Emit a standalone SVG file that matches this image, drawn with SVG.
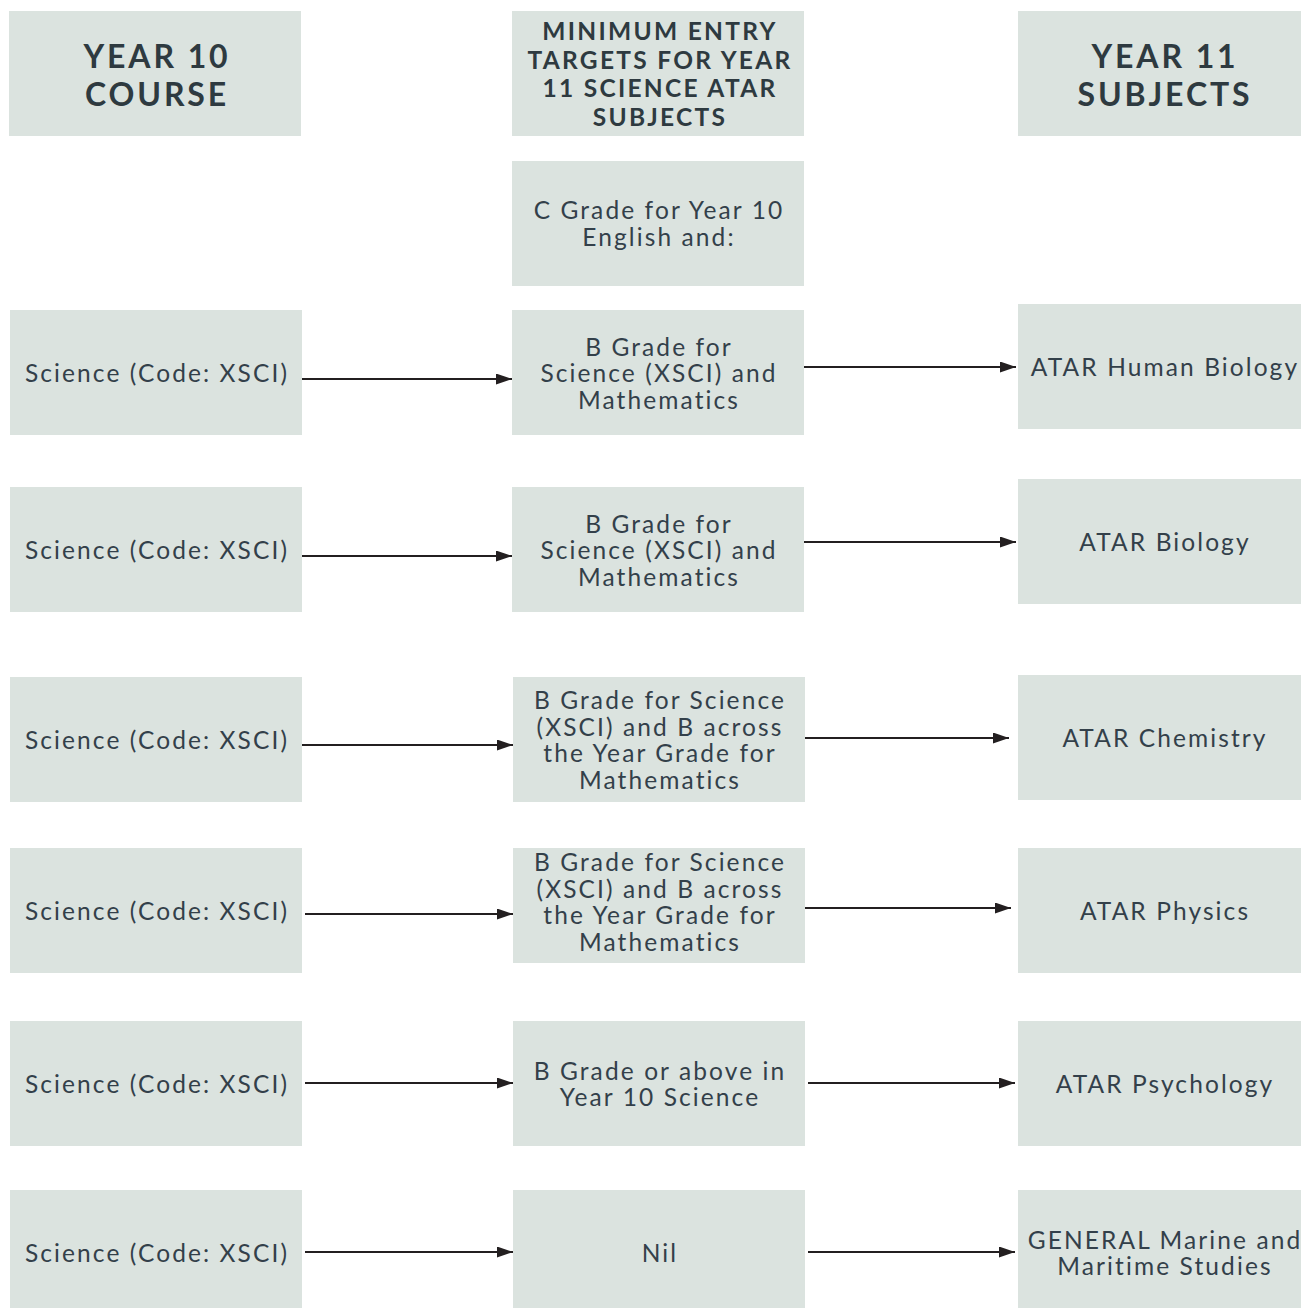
<svg xmlns="http://www.w3.org/2000/svg" width="1301" height="1308" viewBox="0 0 1301 1308">
  <style>
    .box { fill: #dbe3df; }
    .hd { font-family: Lato, "Liberation Sans", sans-serif; font-weight: bold; fill: #2e3a40; text-anchor: middle; }
    .hd1 { font-size: 32px; letter-spacing: 2.9px; }
    .hd2 { font-size: 24.5px; letter-spacing: 2.3px; }
    .tx { font-family: Lato, "Liberation Sans", sans-serif; font-size: 24.5px; letter-spacing: 2.1px; fill: #33404a; text-anchor: middle; }
    .edge { stroke: #231f20; stroke-width: 2.2; fill: none; marker-end: url(#arrow); }
  </style>
  <defs>
    <marker id="arrow" viewBox="0 0 16 11" refX="16" refY="5.5" markerWidth="16" markerHeight="11" markerUnits="userSpaceOnUse" orient="auto">
      <path d="M0,0 L16,5.5 L0,11 z" fill="#231f20"/>
    </marker>
  </defs>
  <rect width="1301" height="1308" fill="#ffffff"/>

  <!-- column headers -->
  <g id="head-year10">
    <rect class="box" x="9" y="11" width="292" height="125"/>
    <text class="hd hd1" x="157" y="68">YEAR 10</text>
    <text class="hd hd1" x="157" y="106">COURSE</text>
  </g>
  <g id="head-targets">
    <rect class="box" x="512" y="11" width="292" height="125"/>
    <text class="hd hd2" x="660" y="40">MINIMUM ENTRY</text>
    <text class="hd hd2" x="660" y="69">TARGETS FOR YEAR</text>
    <text class="hd hd2" x="660" y="97">11 SCIENCE ATAR</text>
    <text class="hd hd2" x="660" y="126">SUBJECTS</text>
  </g>
  <g id="head-year11">
    <rect class="box" x="1018" y="11" width="283" height="125"/>
    <text class="hd hd1" x="1165" y="68">YEAR 11</text>
    <text class="hd hd1" x="1165" y="106">SUBJECTS</text>
  </g>

  <g id="english">
    <rect class="box" x="512" y="161" width="292" height="125"/>
    <text class="tx" x="659" y="219">C Grade for Year 10</text>
    <text class="tx" x="659" y="246">English and:</text>
  </g>

  <!-- row 1 -->
  <g id="course1">
    <rect class="box" x="10" y="310" width="292" height="125"/>
    <text class="tx" x="157" y="382">Science (Code: XSCI)</text>
  </g>
  <g id="target1">
    <rect class="box" x="512" y="310" width="292" height="125"/>
    <text class="tx" x="659" y="356">B Grade for</text>
    <text class="tx" x="659" y="382">Science (XSCI) and</text>
    <text class="tx" x="659" y="409">Mathematics</text>
  </g>
  <g id="subject1">
    <rect class="box" x="1018" y="304" width="283" height="125"/>
    <text class="tx" x="1165" y="376">ATAR Human Biology</text>
  </g>

  <!-- row 2 -->
  <g id="course2">
    <rect class="box" x="10" y="487" width="292" height="125"/>
    <text class="tx" x="157" y="559">Science (Code: XSCI)</text>
  </g>
  <g id="target2">
    <rect class="box" x="512" y="487" width="292" height="125"/>
    <text class="tx" x="659" y="533">B Grade for</text>
    <text class="tx" x="659" y="559">Science (XSCI) and</text>
    <text class="tx" x="659" y="586">Mathematics</text>
  </g>
  <g id="subject2">
    <rect class="box" x="1018" y="479" width="283" height="125"/>
    <text class="tx" x="1165" y="551">ATAR Biology</text>
  </g>

  <!-- row 3 -->
  <g id="course3">
    <rect class="box" x="10" y="677" width="292" height="125"/>
    <text class="tx" x="157" y="749">Science (Code: XSCI)</text>
  </g>
  <g id="target3">
    <rect class="box" x="513" y="677" width="292" height="125"/>
    <text class="tx" x="660" y="709">B Grade for Science</text>
    <text class="tx" x="660" y="736">(XSCI) and B across</text>
    <text class="tx" x="660" y="762">the Year Grade for</text>
    <text class="tx" x="660" y="789">Mathematics</text>
  </g>
  <g id="subject3">
    <rect class="box" x="1018" y="675" width="283" height="125"/>
    <text class="tx" x="1165" y="747">ATAR Chemistry</text>
  </g>

  <!-- row 4 -->
  <g id="course4">
    <rect class="box" x="10" y="848" width="292" height="125"/>
    <text class="tx" x="157" y="920">Science (Code: XSCI)</text>
  </g>
  <g id="target4">
    <rect class="box" x="513" y="848" width="292" height="115"/>
    <text class="tx" x="660" y="871">B Grade for Science</text>
    <text class="tx" x="660" y="898">(XSCI) and B across</text>
    <text class="tx" x="660" y="924">the Year Grade for</text>
    <text class="tx" x="660" y="951">Mathematics</text>
  </g>
  <g id="subject4">
    <rect class="box" x="1018" y="848" width="283" height="125"/>
    <text class="tx" x="1165" y="920">ATAR Physics</text>
  </g>

  <!-- row 5 -->
  <g id="course5">
    <rect class="box" x="10" y="1021" width="292" height="125"/>
    <text class="tx" x="157" y="1093">Science (Code: XSCI)</text>
  </g>
  <g id="target5">
    <rect class="box" x="513" y="1021" width="292" height="125"/>
    <text class="tx" x="660" y="1080">B Grade or above in</text>
    <text class="tx" x="660" y="1106">Year 10 Science</text>
  </g>
  <g id="subject5">
    <rect class="box" x="1018" y="1021" width="283" height="125"/>
    <text class="tx" x="1165" y="1093">ATAR Psychology</text>
  </g>

  <!-- row 6 -->
  <g id="course6">
    <rect class="box" x="10" y="1190" width="292" height="118"/>
    <text class="tx" x="157" y="1262">Science (Code: XSCI)</text>
  </g>
  <g id="target6">
    <rect class="box" x="513" y="1190" width="292" height="118"/>
    <text class="tx" x="660" y="1262">Nil</text>
  </g>
  <g id="subject6">
    <rect class="box" x="1018" y="1190" width="283" height="118"/>
    <text class="tx" x="1165" y="1249">GENERAL Marine and</text>
    <text class="tx" x="1165" y="1275">Maritime Studies</text>
  </g>

  <!-- connectors -->
  <g id="connectors">
    <line class="edge" x1="302" y1="379" x2="512" y2="379"/>
    <line class="edge" x1="804" y1="367" x2="1016" y2="367"/>
    <line class="edge" x1="302" y1="556" x2="512" y2="556"/>
    <line class="edge" x1="804" y1="542" x2="1016" y2="542"/>
    <line class="edge" x1="302" y1="745" x2="513" y2="745"/>
    <line class="edge" x1="805" y1="738" x2="1009" y2="738"/>
    <line class="edge" x1="305" y1="914" x2="513" y2="914"/>
    <line class="edge" x1="805" y1="908" x2="1011" y2="908"/>
    <line class="edge" x1="305" y1="1083" x2="513" y2="1083"/>
    <line class="edge" x1="808" y1="1083" x2="1015" y2="1083"/>
    <line class="edge" x1="305" y1="1252" x2="513" y2="1252"/>
    <line class="edge" x1="808" y1="1252" x2="1015" y2="1252"/>
  </g>
</svg>
